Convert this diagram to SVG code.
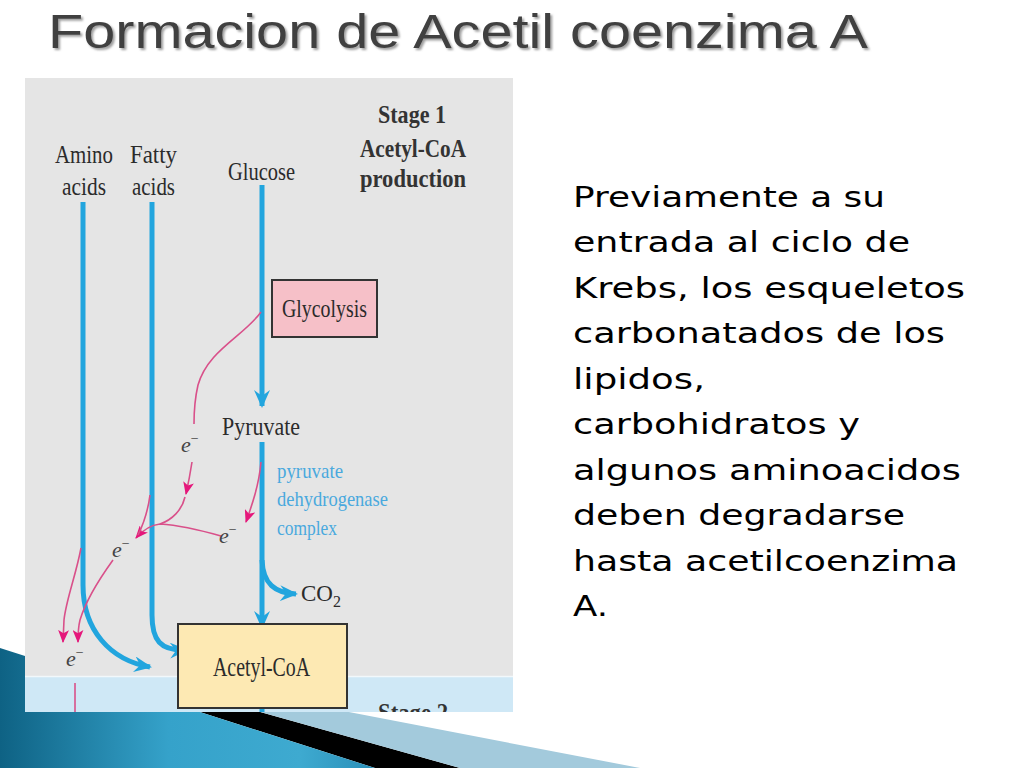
<svg xmlns="http://www.w3.org/2000/svg" width="1024" height="768" viewBox="0 0 1024 768">
<style>
.fig{font-family:"Liberation Serif","DejaVu Serif",serif;fill:#2b2b2b;}
.lbl{font-size:26px;}
.stg{font-size:26px;font-weight:bold;fill:#333;}
.pdh{font-size:22px;fill:#4aa9de;}
.el{font-family:"Liberation Serif","DejaVu Serif",serif;font-style:italic;font-size:22px;fill:#444;}
.sup{font-size:14px;font-style:normal;}
.para{font-family:"DejaVu Sans","Liberation Sans",sans-serif;font-size:28px;fill:#000;}
.blue{fill:none;stroke:#22a5de;stroke-width:5;}
.pink{fill:none;stroke:#d9508a;stroke-width:1.6;}
.box{stroke:#333;stroke-width:2;}
</style>
<defs>
<marker id="ab" viewBox="0 0 18 16" refX="16" refY="8" markerWidth="18" markerHeight="16" markerUnits="userSpaceOnUse" orient="auto">
<path d="M0,0 L18,8 L0,16 L6,8 Z" fill="#22a5de"/>
</marker>
<marker id="ap" viewBox="0 0 12 10" refX="11" refY="5" markerWidth="13" markerHeight="11" markerUnits="userSpaceOnUse" orient="auto">
<path d="M0,0 L12,5 L0,10 L3,5 Z" fill="#e5177b"/>
</marker>
<clipPath id="figclip"><rect x="25" y="78" width="488" height="634"/></clipPath>
<linearGradient id="bg1" x1="0" y1="0" x2="1" y2="0">
<stop offset="0" stop-color="#0e6284"/>
<stop offset="0.45" stop-color="#35a2ca"/>
<stop offset="0.8" stop-color="#3eaad0"/>
<stop offset="1" stop-color="#2a8fb8"/>
</linearGradient>
<filter id="sh" x="-5%" y="-20%" width="110%" height="150%">
<feDropShadow dx="2" dy="2" stdDeviation="1.2" flood-color="#777" flood-opacity="0.7"/>
</filter>
</defs>
<rect width="1024" height="768" fill="#ffffff"/>
<g id="decoration">
<polygon points="150,681 460,768 375,768 150,696" fill="#000"/>
<polygon points="200,683.5 640,768 460,768 200,695" fill="#a3cadc"/>
<polygon points="0,648 375,768 0,768" fill="url(#bg1)"/>
</g>
<g id="title">
<text x="48" y="48" font-family="Liberation Sans, Arial, sans-serif" font-size="48" fill="#404040" textLength="820" lengthAdjust="spacingAndGlyphs" filter="url(#sh)">Formacion de Acetil coenzima A</text>
</g>
<g id="figure" clip-path="url(#figclip)">
<rect x="25" y="78" width="488" height="598" fill="#e5e5e5"/>
<rect x="25" y="676" width="488" height="36" fill="#cfe8f6"/>
<line x1="25" y1="676.5" x2="513" y2="676.5" stroke="#f2f8fb" stroke-width="1.5"/>
<g id="connectors">
<path class="blue" d="M83,202 L83,585 C83,630 110,660 150,667" marker-end="url(#ab)"/>
<path class="blue" d="M152,202 L152,615 C152,640 160,651 186,650" marker-end="url(#ab)"/>
<path class="blue" d="M262,185 L262,406" marker-end="url(#ab)"/>
<path class="blue" d="M262,442 L262,627" marker-end="url(#ab)"/>
<path class="blue" d="M262,560 C263,584 275,593 296,594" marker-end="url(#ab)"/>
<path class="blue" d="M262,708 L262,714"/>
<path class="pink" d="M261,312 C244,336 208,350 198,385 C195,398 194,410 194,424"/>
<path class="pink" d="M192,462 C190,475 188,485 186,494" marker-end="url(#ap)"/>
<path class="pink" d="M185,497 C182,510 172,520 160,524"/>
<path class="pink" d="M221,536 C200,530 175,525 160,524 C150,525 143,530 136,538" marker-end="url(#ap)"/>
<path class="pink" d="M150,495 C148,510 143,525 138,535"/>
<path class="pink" d="M261,462 C259,485 252,505 246,522" marker-end="url(#ap)"/>
<path class="pink" d="M113,560 C100,578 86,600 80,620 C78,628 78,635 78,642" marker-end="url(#ap)"/>
<path class="pink" d="M81,548 C76,575 66,600 64,620 L63,642" marker-end="url(#ap)"/>
<path class="pink" d="M75,683 L75,714"/>
</g>
<g id="amino"><text class="fig lbl" x="55" y="163" textLength="58" lengthAdjust="spacingAndGlyphs">Amino</text><text class="fig lbl" x="62" y="195" textLength="44" lengthAdjust="spacingAndGlyphs">acids</text></g>
<g id="fatty"><text class="fig lbl" x="130" y="163" textLength="47" lengthAdjust="spacingAndGlyphs">Fatty</text><text class="fig lbl" x="132" y="195" textLength="43" lengthAdjust="spacingAndGlyphs">acids</text></g>
<g id="glucose"><text class="fig lbl" x="228" y="180" textLength="67" lengthAdjust="spacingAndGlyphs">Glucose</text></g>
<g id="stage1">
<text class="fig stg" x="378" y="123" textLength="68" lengthAdjust="spacingAndGlyphs">Stage 1</text>
<text class="fig stg" x="360" y="157" textLength="106" lengthAdjust="spacingAndGlyphs">Acetyl-CoA</text>
<text class="fig stg" x="360" y="187" textLength="106" lengthAdjust="spacingAndGlyphs">production</text>
</g>
<g id="glycolysis"><rect class="box" x="272" y="280" width="105" height="57" fill="#f6c0c8"/><text class="fig lbl" x="282" y="317" textLength="85" lengthAdjust="spacingAndGlyphs">Glycolysis</text></g>
<g id="pyruvate"><text class="fig lbl" x="222" y="435" textLength="78" lengthAdjust="spacingAndGlyphs">Pyruvate</text></g>
<g id="pdh">
<text class="fig pdh" x="277" y="478" textLength="66" lengthAdjust="spacingAndGlyphs">pyruvate</text>
<text class="fig pdh" x="277" y="506" textLength="111" lengthAdjust="spacingAndGlyphs">dehydrogenase</text>
<text class="fig pdh" x="277" y="535" textLength="60" lengthAdjust="spacingAndGlyphs">complex</text>
</g>
<g id="co2"><text class="fig" font-size="23" x="301" y="601">CO<tspan font-size="16" dy="6">2</tspan></text></g>
<g id="acetylcoa"><rect class="box" x="178" y="624" width="169" height="84" fill="#fde9b3"/><text class="fig" font-size="27" x="213" y="676" textLength="97" lengthAdjust="spacingAndGlyphs">Acetyl-CoA</text></g>
<g id="e1"><text class="el" x="181" y="452">e<tspan class="sup" dy="-9">−</tspan></text></g>
<g id="e2"><text class="el" x="219" y="543">e<tspan class="sup" dy="-9">−</tspan></text></g>
<g id="e3"><text class="el" x="112" y="557">e<tspan class="sup" dy="-9">−</tspan></text></g>
<g id="e4"><text class="el" x="66" y="666">e<tspan class="sup" dy="-9">−</tspan></text></g>
<g id="stage2"><text class="fig stg" x="378" y="721" textLength="70" lengthAdjust="spacingAndGlyphs">Stage 2</text></g>
</g>
<g id="paragraph">
<text class="para" x="573" y="207" textLength="312" lengthAdjust="spacingAndGlyphs">Previamente a su</text>
<text class="para" x="573" y="252" textLength="337" lengthAdjust="spacingAndGlyphs">entrada al ciclo de</text>
<text class="para" x="573" y="298" textLength="392" lengthAdjust="spacingAndGlyphs">Krebs, los esqueletos</text>
<text class="para" x="573" y="343" textLength="372" lengthAdjust="spacingAndGlyphs">carbonatados de los</text>
<text class="para" x="573" y="389" textLength="132" lengthAdjust="spacingAndGlyphs">lipidos,</text>
<text class="para" x="573" y="434" textLength="287" lengthAdjust="spacingAndGlyphs">carbohidratos y</text>
<text class="para" x="573" y="480" textLength="388" lengthAdjust="spacingAndGlyphs">algunos aminoacidos</text>
<text class="para" x="573" y="525" textLength="332" lengthAdjust="spacingAndGlyphs">deben degradarse</text>
<text class="para" x="573" y="571" textLength="385" lengthAdjust="spacingAndGlyphs">hasta acetilcoenzima</text>
<text class="para" x="573" y="616" textLength="35" lengthAdjust="spacingAndGlyphs">A.</text>
</g>
</svg>
